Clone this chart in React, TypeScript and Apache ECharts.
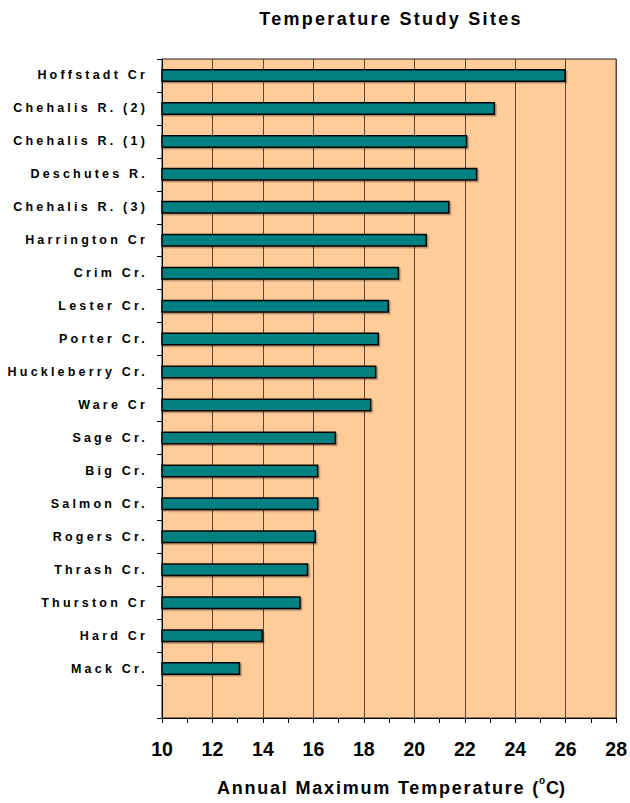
import React, { useEffect, useRef } from 'react';
import * as echarts from 'echarts';

const TITLE = 'Temperature Study Sites';
const NAME_A = 'Annual Maximum Temperature (';
const NAME_B = 'o';
const NAME_C = 'C)';

const sites = [
  'Hoffstadt Cr',
  'Chehalis R. (2)',
  'Chehalis R. (1)',
  'Deschutes R.',
  'Chehalis R. (3)',
  'Harrington Cr',
  'Crim Cr.',
  'Lester Cr.',
  'Porter Cr.',
  'Huckleberry Cr.',
  'Ware Cr',
  'Sage Cr.',
  'Big Cr.',
  'Salmon Cr.',
  'Rogers Cr.',
  'Thrash Cr.',
  'Thurston Cr',
  'Hard Cr',
  'Mack Cr.',
  '',
];

const maxTemps: (number | null)[] = [
  26.0, 23.2, 22.1, 22.5, 21.4, 20.5, 19.4, 19.0, 18.6, 18.5, 18.3, 16.9, 16.2, 16.2, 16.1,
  15.8, 15.5, 14.0, 13.1, null,
];

const xMin = 10;
const xMax = 28;
const xStep = 2;

const FONT = '"Liberation Sans", Arial, sans-serif';

function applySpacing(root: HTMLElement) {
  const texts = Array.from(root.querySelectorAll('text')) as SVGTextElement[];
  texts.forEach((t) => {
    const s = t.textContent || '';
    if (s && sites.includes(s)) t.setAttribute('letter-spacing', '3.2');
    else if (s === TITLE) t.setAttribute('letter-spacing', '2.3');
    else if (s === NAME_A) t.setAttribute('letter-spacing', '1.8');
  });
}

export default function App() {
  const ref = useRef<HTMLDivElement>(null);

  useEffect(() => {
    document.body.style.margin = '0';
    if (!ref.current) return;
    const chart = echarts.init(ref.current, undefined, { renderer: 'svg' });
    const txt = (text: string, x: number, y: number, size: number, align: string) => ({
      type: 'text',
      x,
      y,
      silent: true,
      style: {
        text,
        align,
        verticalAlign: 'middle',
        fontSize: size,
        fontWeight: 'bold',
        fontFamily: FONT,
        fill: '#000000',
      },
    });
    chart.setOption({
      animation: false,
      backgroundColor: '#ffffff',
      textStyle: { fontFamily: FONT },
      graphic: [
        txt(TITLE, 391, 18.5, 18, 'center'),
        txt(NAME_A, 540, 788, 18, 'right'),
        txt(NAME_B, 539, 780, 10, 'left'),
        txt(NAME_C, 546, 788, 18, 'left'),
      ],
      grid: {
        left: 162,
        right: 13,
        top: 59,
        bottom: 85,
        show: true,
        backgroundColor: '#FFCC99',
        borderColor: '#222222',
        borderWidth: 1,
      },
      xAxis: {
        type: 'value',
        min: xMin,
        max: xMax,
        interval: xStep,
        axisLine: { show: true, lineStyle: { color: '#000', width: 1 } },
        axisTick: { show: true, length: 5, lineStyle: { color: '#000' } },
        minorTick: { show: true, splitNumber: 2, length: 5, lineStyle: { color: '#000' } },
        splitLine: { show: true, lineStyle: { color: '#5a4636', width: 1 } },
        axisLabel: {
          color: '#000',
          fontSize: 19.5,
          fontWeight: 'bold',
          fontFamily: FONT,
          margin: 21,
        },
      },
      yAxis: {
        type: 'category',
        inverse: true,
        data: sites,
        boundaryGap: true,
        axisLine: { show: true, lineStyle: { color: '#000', width: 1 } },
        axisTick: { show: true, length: 5, alignWithLabel: false, lineStyle: { color: '#000' } },
        axisLabel: {
          color: '#000',
          fontSize: 12.5,
          fontWeight: 'bold',
          fontFamily: FONT,
          margin: 14,
          interval: 0,
        },
        splitLine: { show: false },
      },
      tooltip: { show: false },
      series: [
        {
          type: 'bar',
          data: maxTemps,
          barWidth: 13,
          silent: true,
          itemStyle: {
            color: '#008080',
            borderColor: '#000000',
            borderWidth: 1.5,
            shadowColor: 'rgba(0,0,0,0.3)',
            shadowOffsetX: 1.5,
            shadowOffsetY: 1.5,
            shadowBlur: 1,
          },
        },
      ],
    });
    const root = ref.current;
    applySpacing(root);
    const onFinished = () => applySpacing(root);
    chart.on('finished', onFinished);
    const timer = window.setTimeout(() => applySpacing(root), 50);
    return () => {
      window.clearTimeout(timer);
      chart.off('finished', onFinished);
      chart.dispose();
    };
  }, []);

  return <div ref={ref} style={{ width: 630, height: 803 }} />;
}
